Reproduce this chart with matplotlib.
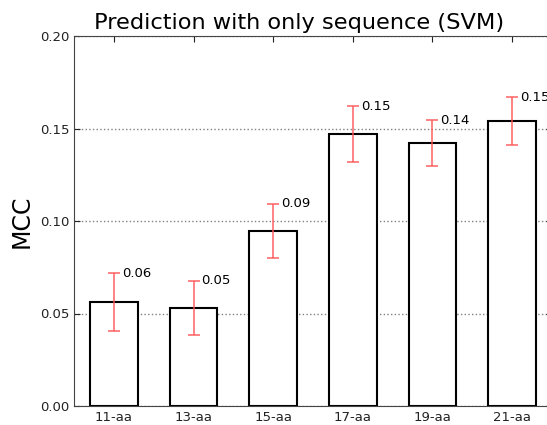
import matplotlib
matplotlib.use("Agg")
import matplotlib.pyplot as plt
import numpy as np

windows = ["11-aa", "13-aa", "15-aa", "17-aa", "19-aa", "21-aa"]
mcc = [0.056, 0.053, 0.0946, 0.147, 0.142, 0.154]
mcc_err = [0.0157, 0.0146, 0.0146, 0.015, 0.0125, 0.013]

def main():
    fig = plt.figure(figsize=(5.47, 4.25), dpi=100)
    ax = fig.add_axes([74/547, 19/425, 478/547, 370/425])
    x = np.arange(len(windows))
    ax.bar(x, mcc, width=0.6, color="white", edgecolor="black", linewidth=1.5, zorder=2)
    ax.errorbar(x, mcc, yerr=mcc_err, fmt="none", ecolor="#ff5555", elinewidth=1.2,
                capsize=4, capthick=1.2, alpha=0.85, zorder=3)
    for xi, v, e in zip(x, mcc, mcc_err):
        ax.text(xi + 0.1, v + e, "%.2f" % v, ha="left", va="center", fontsize=9.5, zorder=4)

    ax.set_xlim(-0.5, len(windows) - 0.5)
    ax.set_ylim(0, 0.20)
    ax.set_yticks([0.0, 0.05, 0.10, 0.15, 0.20])
    ax.set_yticklabels(["0.00", "0.05", "0.10", "0.15", "0.20"])
    ax.set_xticks(x)
    ax.set_xticklabels(windows)
    ax.tick_params(direction="in", top=True, right=True, labelsize=9.5, colors="#222222", length=4)
    ax.yaxis.grid(True, linestyle=":", color="gray", linewidth=1, zorder=0)
    for s in ax.spines.values():
        s.set_color("#444444")
    ax.set_ylabel("MCC", fontsize=17, labelpad=4)
    ax.set_title("Prediction with only sequence (SVM)", fontsize=16.2, x=0.47, pad=5)
    fig.savefig("out.png", dpi=100)

if __name__ == "__main__":
    main()
